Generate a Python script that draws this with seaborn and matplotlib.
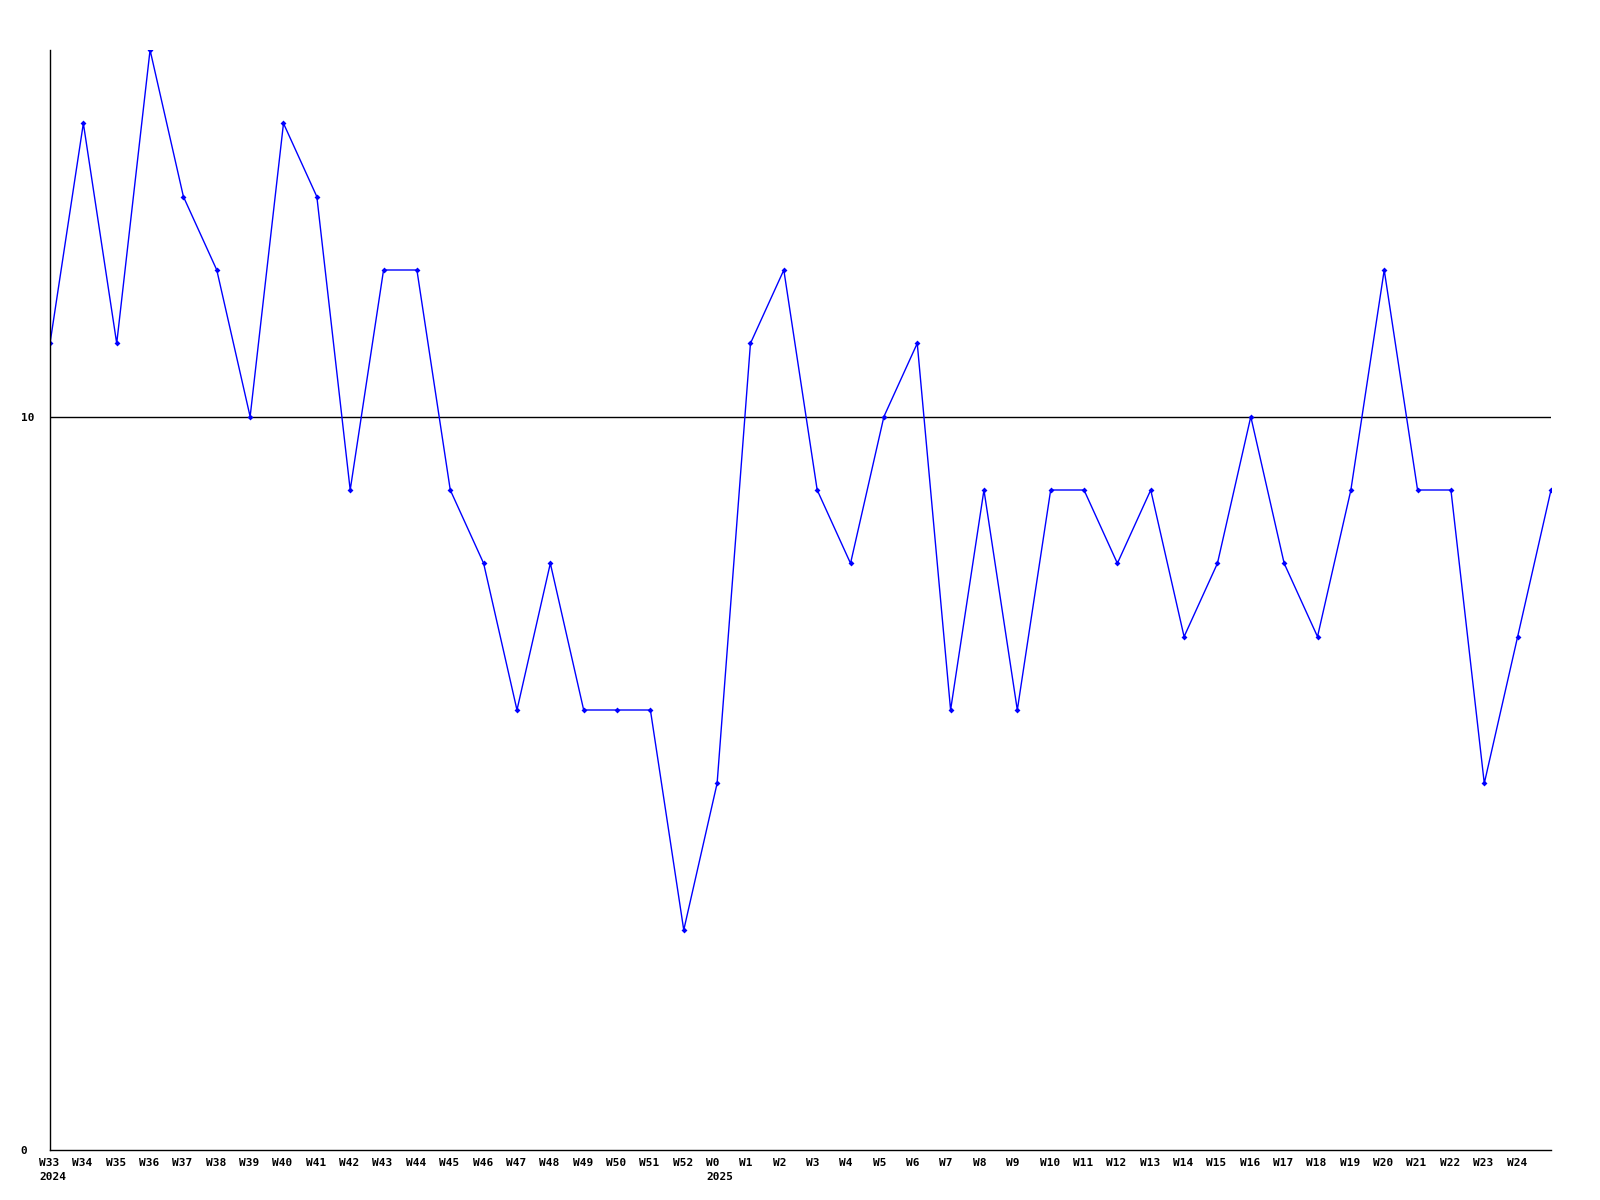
import matplotlib
matplotlib.use('Agg')
import matplotlib.pyplot as plt
import seaborn as sns
import pandas as pd

# semanas (a última não tem rótulo visível no original)
weeks = ['W33', 'W34', 'W35', 'W36', 'W37', 'W38', 'W39', 'W40', 'W41', 'W42',
         'W43', 'W44', 'W45', 'W46', 'W47', 'W48', 'W49', 'W50', 'W51', 'W52',
         'W0', 'W1', 'W2', 'W3', 'W4', 'W5', 'W6', 'W7', 'W8', 'W9',
         'W10', 'W11', 'W12', 'W13', 'W14', 'W15', 'W16', 'W17', 'W18', 'W19',
         'W20', 'W21', 'W22', 'W23', 'W24', 'W25']
values = [11, 14, 11, 15, 13, 12, 10, 14, 13, 9,
          12, 12, 9, 8, 6, 8, 6, 6, 6, 3,
          5, 11, 12, 9, 8, 10, 11, 6, 9, 6,
          9, 9, 8, 9, 7, 8, 10, 8, 7, 9,
          12, 9, 9, 5, 7, 9]
year_marks = {'W33': '2024', 'W0': '2025'}
y_ticks = [0, 10]
ref_line = 10

df = pd.DataFrame({'pos': range(len(weeks)), 'week': weeks, 'value': values})

sns.set_theme(style='white')
plt.rcParams['font.family'] = ['DejaVu Sans Mono']

fig = plt.figure(figsize=(16, 12), dpi=100)
ax = fig.add_axes([50 / 1600, 50 / 1200, 1501 / 1600, 1100 / 1200])

sns.lineplot(data=df, x='pos', y='value', ax=ax, color='#0000ff', linewidth=1.0,
             marker='D', markersize=3, markeredgewidth=0, markerfacecolor='#0000ff')

ax.axhline(ref_line, color='black', linewidth=1.0, zorder=0)

ax.set_xlim(0, len(weeks) - 1)
ax.set_ylim(0, 15)

# rótulos do eixo x: alinhados à esquerda, um pouco antes de cada ponto
ax.set_xticks([])
for i, w in enumerate(weeks[:-1]):
    txt = w + '\n' + year_marks[w] if w in year_marks else w
    ax.annotate(txt, xy=(i, 0), xycoords=('data', 'axes fraction'),
                xytext=(-8, -6), textcoords='offset points',
                ha='left', va='top', fontsize=8, fontweight='bold',
                linespacing=1.45, color='black', annotation_clip=False)

ax.set_yticks(y_ticks)
ax.set_yticklabels([str(t) for t in y_ticks], fontsize=8, fontweight='bold',
                   ha='left', color='black')
ax.tick_params(axis='y', length=0, pad=21)

ax.set_xlabel('')
ax.set_ylabel('')
for side in ['top', 'right']:
    ax.spines[side].set_visible(False)
for side in ['left', 'bottom']:
    ax.spines[side].set_color('black')
    ax.spines[side].set_linewidth(1.0)

fig.savefig('out.png', dpi=100)
